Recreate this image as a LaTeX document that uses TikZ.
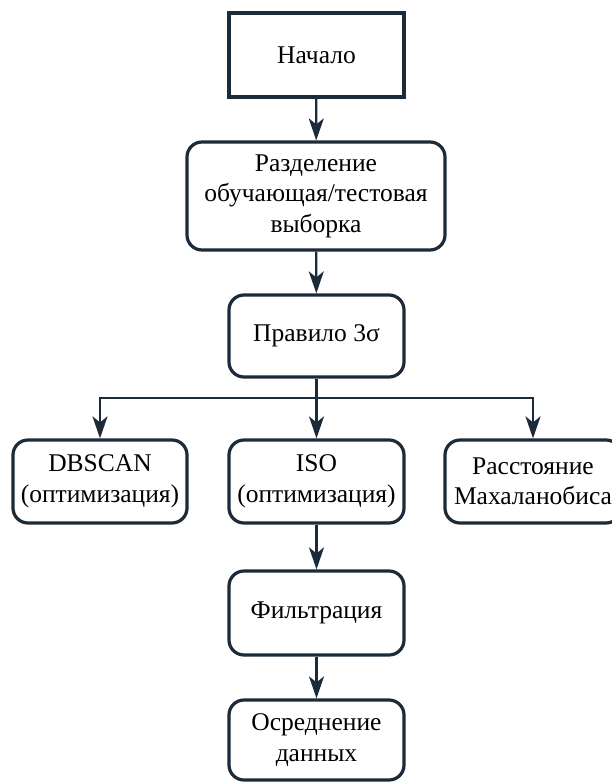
\documentclass[tikz,border=0pt]{standalone}
\usepackage{fontspec}
\setmainfont{Liberation Serif}
\usetikzlibrary{arrows.meta}
\definecolor{ink}{HTML}{1C2B39}
\tikzset{
  box/.style={draw=ink, line width=3.2pt, fill=white, align=center, inner sep=2pt,
    font=\fontsize{25.5}{30.5}\selectfont, text=black},
  rbox/.style={box, rounded corners=15pt},
  conn/.style={draw=ink, line width=2.2pt, -{Stealth[length=22pt,width=15pt,inset=6pt]}},
  plain/.style={draw=ink, line width=2.2pt}
}
\begin{document}
\begin{tikzpicture}[x=1pt,y=1pt]
\useasboundingbox (0,0) rectangle (612,-782);
\node[box, minimum width=175pt, minimum height=84pt] (start) at (316.5,-55) {Начало};
\node[rbox, minimum width=258pt, minimum height=108pt] (split) at (316,-196) {Разделение\\обучающая/тестовая\\выборка};
\node[rbox, minimum width=175pt, minimum height=82pt] (rule) at (316.5,-336) {Правило 3σ};
\node[rbox, minimum width=174pt, minimum height=83pt] (dbscan) at (100,-481.5) {DBSCAN\\(оптимизация)};
\node[rbox, minimum width=175pt, minimum height=83pt] (iso) at (316.5,-481.5) {ISO\\(оптимизация)};
\node[rbox, minimum width=176pt, minimum height=83pt] (maha) at (533,-481.5) {Расстояние\\Махаланобиса};
\node[rbox, minimum width=175pt, minimum height=84pt] (filter) at (316.5,-613) {Фильтрация};
\node[rbox, minimum width=175pt, minimum height=80pt] (avg) at (316.5,-740) {Осреднение\\данных};
\coordinate (br) at (316.5,-398);
\draw[conn] (start) -- (split);
\draw[conn] (split) -- (rule);
\draw[plain] (rule.south) -- (br);
\draw[conn] (br) -- (iso.north);
\draw[conn] (br) -| (dbscan.north);
\draw[conn] (br) -| (maha.north);
\draw[conn] (iso) -- (filter);
\draw[conn] (filter) -- (avg);
\end{tikzpicture}
\end{document}
